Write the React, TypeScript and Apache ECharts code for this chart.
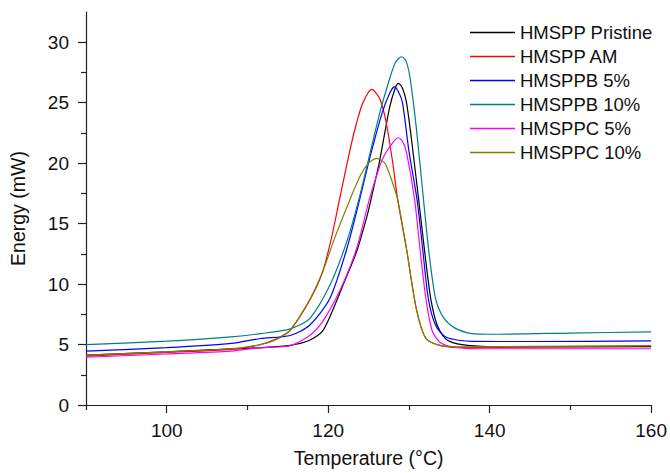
import React, { useEffect, useRef } from "react";
import * as echarts from "echarts";

const seriesNames = ["HMSPP Pristine", "HMSPP AM", "HMSPPB 5%", "HMSPPB 10%", "HMSPPC 5%", "HMSPPC 10%"];
const seriesColors = ["#000000", "#ff0000", "#0000ff", "#008080", "#ff00ff", "#808000"];

const pristine = [[90,4.13],[100,4.4],[108,4.65],[112,4.75],[115.3,4.93],[117.7,5.35],[119.3,6.1],[120.6,7.9],[121.8,9.86],[123.5,12.65],[124.8,15.6],[125.4,17.3],[126.4,20.3],[127.6,24.6],[128.3,26.2],[128.7,26.6],[129.2,26.2],[129.7,25.0],[130.4,21.5],[131.2,17.0],[132.0,12.4],[132.7,8.8],[133.5,6.6],[134.5,5.5],[136,5.05],[139,4.85],[145,4.8],[160,4.82]];
const am = [[90,4.05],[100,4.35],[108,4.6],[111.6,5.0],[113.5,5.45],[115.3,6.2],[117.9,8.9],[119.3,11.0],[120.4,13.8],[121.4,17.0],[122.7,21.1],[123.5,23.3],[124.3,25.0],[125.4,26.1],[126.4,25.3],[127.2,23.3],[128.0,20.0],[128.6,17.0],[129.7,12.9],[130.9,8.0],[132.1,5.5],[133.8,4.93],[137,4.75],[145,4.8],[160,4.9]];
const b5 = [[90,4.46],[100,4.74],[108,5.09],[111.6,5.5],[115.3,5.75],[117.7,6.6],[120.2,8.8],[122.3,12.9],[123.9,17.0],[125.1,20.3],[126.7,24.2],[127.7,25.9],[128.2,26.3],[128.7,25.9],[129.2,25.0],[130.0,21.0],[131.0,17.0],[131.7,12.9],[132.4,8.8],[133.3,6.6],[134.6,5.6],[137.8,5.26],[145,5.25],[160,5.3]];
const b10 = [[90,5.0],[100,5.28],[108,5.64],[111.6,5.9],[115.3,6.3],[117.7,7.15],[120.2,9.9],[122.3,13.5],[123.8,17.0],[125.1,20.6],[126.4,24.2],[127.3,26.3],[128.3,28.3],[129.1,28.8],[129.6,28.5],[130.1,27.2],[130.9,23.0],[131.8,17.0],[132.5,12.5],[133.3,8.8],[134.3,7.2],[135.6,6.4],[137.8,5.9],[140,5.85],[150,5.95],[160,6.05]];
const c5 = [[90,3.95],[100,4.22],[108,4.46],[111.6,4.75],[115.3,4.9],[117.7,5.75],[119.3,6.9],[121.4,9.4],[123.5,12.9],[125.1,17.0],[126.7,20.3],[128.0,21.7],[128.7,22.1],[129.2,21.8],[129.7,20.9],[130.7,17.0],[131.4,12.7],[132.1,8.8],[132.9,6.1],[134,5.1],[136,4.75],[140,4.65],[160,4.65]];
const c10 = [[90,4.13],[100,4.4],[108,4.65],[111.6,5.0],[113.5,5.4],[115.3,6.2],[117.7,8.7],[119.3,11.0],[120.8,13.8],[122.7,17.0],[124.0,19.0],[125.0,20.0],[126.0,20.4],[127.0,20.0],[127.7,18.9],[128.6,17.0],[129.7,12.9],[130.9,8.0],[132.1,5.5],[133.8,4.93],[137,4.8],[145,4.85],[160,4.9]];
const seriesData = [pristine, am, b5, b10, c5, c10];

const xMajorTicks = [100, 120, 140, 160];
const xMinorTicks = [90, 110, 130, 150];
const yMajorTicks = [0, 5, 10, 15, 20, 25, 30];
const yMinorTicks = [2.5, 7.5, 12.5, 17.5, 22.5, 27.5];

const FONT = "Liberation Sans, Arial, sans-serif";
const TXT = "#111111";
const AX = "#222222";

export default function App() {
  const ref = useRef<HTMLDivElement>(null);
  useEffect(() => {
    if (!ref.current) return;
    const chart = echarts.init(ref.current, undefined, { renderer: "svg" });
    const axisLineStyle = { color: AX, width: 1.2 };
    chart.setOption({
      animation: false,
      backgroundColor: "#ffffff",
      textStyle: { fontFamily: FONT },
      grid: { left: 86, right: 17, top: 12, bottom: 66, containLabel: false },
      legend: {
        orient: "vertical",
        left: 465,
        top: 18,
        icon: "rect",
        itemWidth: 45,
        itemHeight: 1.5,
        itemGap: 5,
        textStyle: { fontSize: 18.5, color: TXT, fontFamily: FONT, lineHeight: 18 },
        data: seriesNames,
      },
      xAxis: [
        {
          type: "value",
          min: 90,
          max: 160,
          name: "Temperature (°C)",
          nameLocation: "middle",
          nameGap: 43,
          nameTextStyle: { fontSize: 19.5, color: TXT, fontFamily: FONT },
          axisLine: { show: true, onZero: false, lineStyle: axisLineStyle },
          axisTick: { show: true, length: 8, customValues: xMajorTicks, lineStyle: axisLineStyle },
          axisLabel: { fontSize: 19, color: TXT, fontFamily: FONT, margin: 16, customValues: xMajorTicks },
          splitLine: { show: false },
        },
        {
          type: "value",
          min: 90,
          max: 160,
          position: "bottom",
          axisLine: { show: false },
          axisTick: { show: true, length: 5, customValues: xMinorTicks, lineStyle: axisLineStyle },
          axisLabel: { show: false },
          splitLine: { show: false },
        },
      ],
      yAxis: [
        {
          type: "value",
          min: 0,
          max: 32.5,
          name: "Energy (mW)",
          nameLocation: "middle",
          nameGap: 58,
          nameTextStyle: { fontSize: 19.5, color: TXT, fontFamily: FONT },
          axisLine: { show: true, onZero: false, lineStyle: axisLineStyle },
          axisTick: { show: true, length: 8, customValues: yMajorTicks, lineStyle: axisLineStyle },
          axisLabel: { fontSize: 19, color: TXT, fontFamily: FONT, margin: 17, customValues: yMajorTicks },
          splitLine: { show: false },
        },
        {
          type: "value",
          min: 0,
          max: 32.5,
          position: "left",
          axisLine: { show: false },
          axisTick: { show: true, length: 5, customValues: yMinorTicks, lineStyle: axisLineStyle },
          axisLabel: { show: false },
          splitLine: { show: false },
        },
      ],
      series: seriesNames.map((name, i) => ({
        name,
        type: "line",
        xAxisIndex: 0,
        yAxisIndex: 0,
        data: seriesData[i],
        symbol: "none",
        smooth: 0.25,
        lineStyle: { color: seriesColors[i], width: 1.2 },
        itemStyle: { color: seriesColors[i] },
      })),
    });
    return () => chart.dispose();
  }, []);
  return <div ref={ref} style={{ position: "fixed", left: 0, top: 0, width: 670, height: 473 }} />;
}
